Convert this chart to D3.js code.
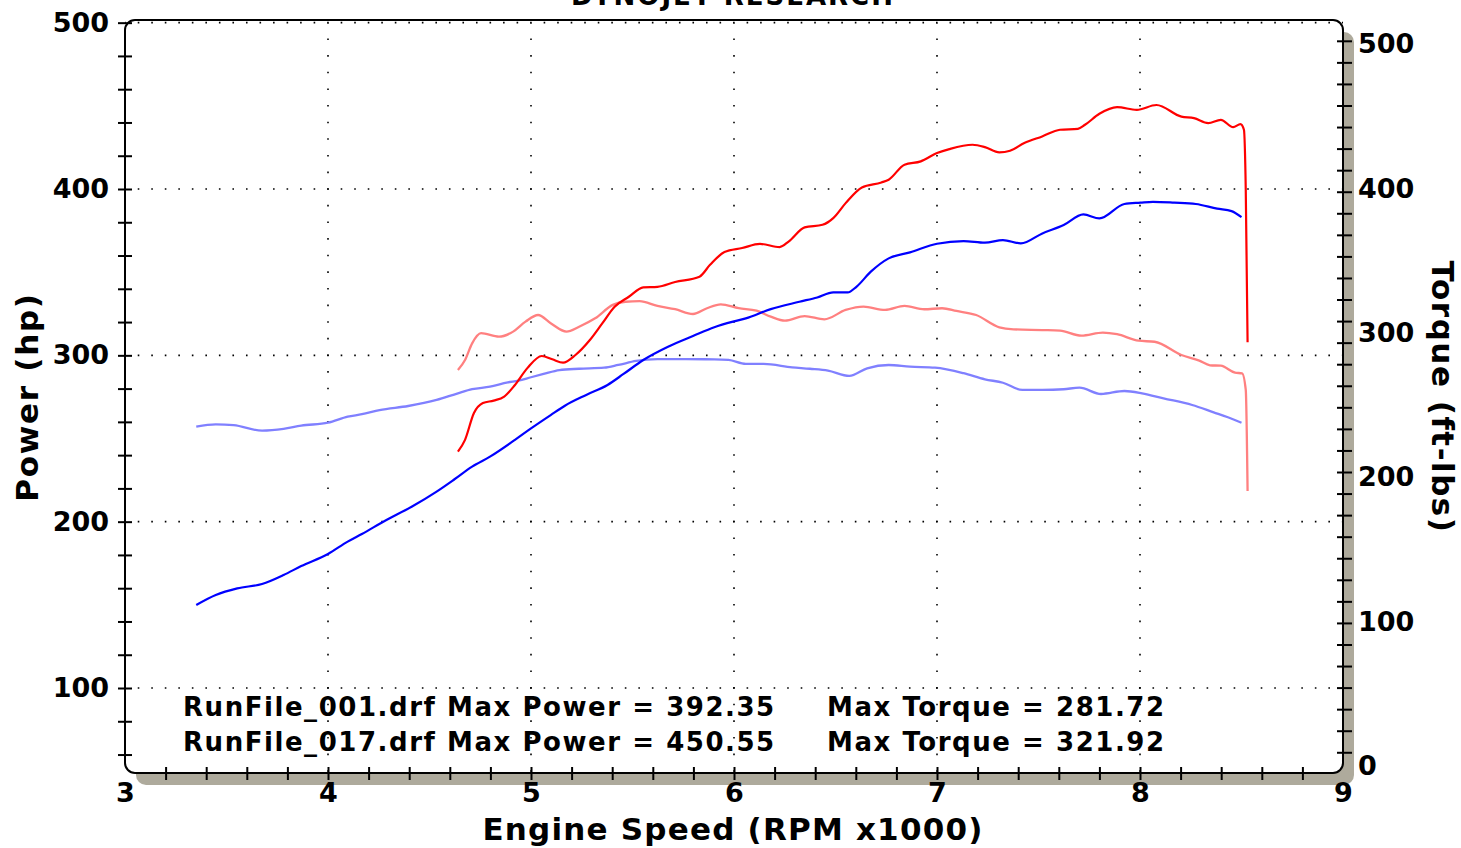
<!DOCTYPE html>
<html>
<head>
<meta charset="utf-8">
<script src="https://cdn.jsdelivr.net/npm/d3@7"></script>
<style>
  html, body { margin: 0; padding: 0; background: #fff; }
  svg text { font-family: "DejaVu Sans", Verdana, sans-serif; font-weight: bold; fill: #000; }
</style>
</head>
<body>
<svg id="chart"></svg>
<script>
// RunFile_001 (blue) and RunFile_017 (red)
const power001Rpm = [3.351,3.447,3.553,3.675,3.781,3.868,4.000,4.097,4.167,4.281,4.412,4.535,4.623,4.710,4.798,4.921,5.000,5.097,5.167,5.272,5.377,5.456,5.553,5.675,5.798,5.903,6.000,6.058,6.181,6.322,6.410,6.489,6.560,6.603,6.674,6.762,6.867,7.000,7.131,7.236,7.325,7.413,7.519,7.624,7.721,7.800,7.923,8.002,8.064,8.169,8.275,8.380,8.451,8.500];
const power001 = [149.9,155.9,159.9,162.5,167.9,173.3,180.6,188.0,192.6,200.6,209.0,218.1,225.5,233.1,239.1,249.2,256.1,264.1,269.7,276.2,282.2,288.8,297.2,305.2,311.6,316.9,320.4,322.2,327.8,332.2,334.8,337.8,337.8,341.2,350.3,358.3,361.9,367.1,368.7,367.7,369.3,367.3,373.3,378.3,384.7,382.3,391.0,391.8,392.3,391.8,391.0,388.2,386.7,383.1];

const torque001Rpm = [3.351,3.447,3.535,3.675,3.781,3.868,4.000,4.097,4.167,4.254,4.395,4.535,4.640,4.710,4.798,4.886,4.938,5.000,5.062,5.140,5.237,5.360,5.430,5.518,5.623,5.763,5.903,5.973,6.058,6.146,6.286,6.374,6.463,6.568,6.656,6.762,6.867,6.990,7.131,7.236,7.325,7.421,7.518,7.624,7.702,7.808,7.923,8.010,8.116,8.257,8.363,8.433,8.500];
const torque001 = [235.0,236.6,236.1,232.2,233.4,235.7,237.7,241.9,243.6,246.5,249.3,253.5,258.1,260.9,262.7,265.7,266.8,269.2,271.5,274.2,275.1,275.8,277.7,280.5,281.7,281.7,281.6,281.2,278.4,278.4,276.1,275.1,273.8,270.1,275.4,277.7,276.5,275.8,272.0,267.8,265.4,260.4,260.4,260.9,262.0,257.6,259.7,258.1,254.6,250.0,244.9,241.5,237.7];

const power017Rpm = [4.640,4.675,4.719,4.763,4.816,4.868,4.921,4.982,5.053,5.105,5.158,5.219,5.290,5.351,5.412,5.482,5.553,5.623,5.710,5.830,5.882,5.953,6.040,6.128,6.225,6.269,6.348,6.436,6.489,6.550,6.630,6.726,6.762,6.840,6.920,7.000,7.061,7.175,7.236,7.307,7.360,7.430,7.518,7.606,7.694,7.729,7.800,7.887,7.984,8.081,8.204,8.266,8.336,8.398,8.459,8.495,8.512,8.521,8.530];
const power017 = [242.1,249.2,265.3,271.3,272.8,275.2,282.2,292.3,299.6,297.6,295.6,300.2,309.2,319.2,329.2,335.2,340.9,341.2,344.1,347.3,354.4,362.1,364.5,367.0,365.1,368.4,376.9,378.5,382.5,391.5,400.9,403.9,405.6,414.6,416.6,421.6,424.0,426.6,425.2,422.0,423.0,427.6,431.6,435.6,436.2,438.6,445.2,449.2,447.6,450.5,443.5,442.6,439.6,441.6,437.2,439.0,435.6,399.5,307.9];

const torque017Rpm = [4.640,4.675,4.710,4.754,4.842,4.912,4.973,5.035,5.097,5.175,5.237,5.316,5.403,5.465,5.535,5.623,5.710,5.798,5.867,5.935,6.023,6.111,6.181,6.251,6.348,6.445,6.550,6.638,6.744,6.840,6.937,7.025,7.096,7.193,7.307,7.377,7.518,7.606,7.711,7.817,7.887,7.993,8.072,8.204,8.292,8.345,8.398,8.468,8.503,8.521,8.530];
const torque017 = [274.2,281.2,292.7,299.7,297.3,300.8,307.7,312.3,306.6,300.8,304.2,310.0,319.3,321.5,321.9,318.6,316.3,313.0,317.0,319.7,317.0,315.3,311.2,308.4,311.6,309.3,315.8,318.1,315.8,318.6,316.3,317.0,315.1,312.3,303.8,302.4,301.9,301.5,298.0,300.1,299.0,294.5,293.8,284.6,280.7,277.5,277.2,272.4,271.9,260.4,190.4];

const runFiles = ["RunFile_001.drf", "RunFile_017.drf"];
const maxPower = [392.35, 450.55];
const maxTorque = [281.72, 321.92];

const rpmLabels = [3, 4, 5, 6, 7, 8, 9];
const rpmMinor = d3.range(3.2, 8.81, 0.2);
const powerLabels = [100, 200, 300, 400, 500];
const powerMinor = d3.range(60, 501, 20);
const torqueLabels = [0, 100, 200, 300, 400, 500];
const torqueMinor = d3.range(34).map(i => 9.5 + i * 14.93);

const W = 1461, H = 848;
const frame = {left: 125, right: 1343, top: 20, bottom: 773};

const svg = d3.select("#chart").attr("width", W).attr("height", H);

const x = d3.scaleLinear().domain([3, 9]).range([frame.left, frame.right]);
const yPower = d3.scaleLinear().domain([48.9, 501.6]).range([frame.bottom, frame.top]);
const yTorque = d3.scaleLinear().domain([-4.85, 516.6]).range([frame.bottom, frame.top]);

// shadow + plot frame
svg.append("rect")
  .attr("x", frame.left + 11).attr("y", frame.top + 12)
  .attr("width", frame.right - frame.left).attr("height", frame.bottom - frame.top)
  .attr("rx", 10).attr("fill", "#aeaa9c");
svg.append("rect")
  .attr("x", frame.left).attr("y", frame.top)
  .attr("width", frame.right - frame.left).attr("height", frame.bottom - frame.top)
  .attr("rx", 10).attr("fill", "#fff");

// dotted grid
const grid = svg.append("g").attr("stroke", "#000").attr("stroke-width", 1.6);
grid.selectAll("line.h").data(powerLabels).join("line")
  .attr("class", "h")
  .attr("x1", x(3)).attr("x2", x(9))
  .attr("y1", d => yPower(d)).attr("y2", d => yPower(d))
  .attr("stroke-dasharray", "1.6 11.93").attr("stroke-dashoffset", 0.8);
grid.selectAll("line.v").data([4, 5, 6, 7, 8]).join("line")
  .attr("class", "v")
  .attr("x1", d => x(d)).attr("x2", d => x(d))
  .attr("y1", yPower(500)).attr("y2", frame.bottom)
  .attr("stroke-dasharray", "1.6 15.03").attr("stroke-dashoffset", 0.8);

// curves
const series = [
  {rpm: torque001Rpm, val: torque001, y: yTorque, color: "#8080ff", w: 2.3},
  {rpm: torque017Rpm, val: torque017, y: yTorque, color: "#ff8080", w: 2.3},
  {rpm: power001Rpm, val: power001, y: yPower, color: "#0000ff", w: 2.2},
  {rpm: power017Rpm, val: power017, y: yPower, color: "#ff0000", w: 2.2}
];
series.forEach(s => {
  const line = d3.line()
    .x(i => x(s.rpm[i]))
    .y(i => s.y(s.val[i]))
    .curve(d3.curveMonotoneX);
  svg.append("path")
    .attr("d", line(d3.range(s.rpm.length)))
    .attr("fill", "none")
    .attr("stroke", s.color)
    .attr("stroke-width", s.w)
    .attr("stroke-linejoin", "round");
});

// legend block
const legend = svg.append("g").style("font-size", "26px").style("letter-spacing", "1.55px");
runFiles.forEach((f, i) => {
  const yy = 716 + i * 35;
  legend.append("text").attr("x", 183).attr("y", yy)
    .text(`${f} Max Power = ${maxPower[i].toFixed(2)}`);
  legend.append("text").attr("x", 827).attr("y", yy)
    .text(`Max Torque = ${maxTorque[i].toFixed(2)}`);
});

// frame outline
svg.append("rect")
  .attr("x", frame.left).attr("y", frame.top)
  .attr("width", frame.right - frame.left).attr("height", frame.bottom - frame.top)
  .attr("rx", 10).attr("fill", "none").attr("stroke", "#000").attr("stroke-width", 2);

// axes
function styleAxis(g) {
  g.select(".domain").remove();
  g.selectAll(".tick line").attr("stroke", "#000").attr("stroke-width", 2);
  g.selectAll("text").attr("font-size", 27).attr("font-family", null).attr("fill", "#000");
}

svg.append("g")
  .attr("transform", `translate(${frame.left + 7},0)`)
  .call(d3.axisLeft(yPower).tickValues(powerMinor).tickSize(14).tickPadding(9)
    .tickFormat(d => d % 100 === 0 ? d : ""))
  .call(styleAxis);

svg.append("g")
  .attr("transform", `translate(${frame.right - 6},0)`)
  .call(d3.axisRight(yTorque).tickValues(torqueMinor).tickSize(15).tickFormat(""))
  .call(styleAxis);
svg.append("g")
  .attr("transform", `translate(${frame.right - 6},0)`)
  .call(d3.axisRight(yTorque).tickValues(torqueLabels).tickSize(0).tickPadding(21))
  .call(styleAxis);

svg.append("g")
  .attr("transform", `translate(0,${frame.bottom - 6})`)
  .call(d3.axisBottom(x).tickValues(rpmMinor).tickSize(13).tickFormat(""))
  .call(styleAxis);
svg.append("g")
  .attr("transform", `translate(0,${frame.bottom})`)
  .call(d3.axisBottom(x).tickValues(rpmLabels).tickSize(0).tickPadding(10).tickFormat(d3.format("d")))
  .call(styleAxis);

// titles
svg.append("text").attr("x", 733).attr("y", 5).attr("text-anchor", "middle")
  .style("font-size", "26px").style("letter-spacing", "2px").text("DYNOJET RESEARCH");
svg.append("text").attr("x", 733).attr("y", 840).attr("text-anchor", "middle")
  .style("font-size", "31px").style("letter-spacing", "1.2px").text("Engine Speed (RPM x1000)");
svg.append("text").attr("transform", "translate(38,397) rotate(-90)").attr("text-anchor", "middle")
  .style("font-size", "31px").style("letter-spacing", "1.7px").text("Power (hp)");
svg.append("text").attr("transform", "translate(1432,397) rotate(90)").attr("text-anchor", "middle")
  .style("font-size", "31px").style("letter-spacing", "1.5px").text("Torque (ft-lbs)");
</script>
</body>
</html>
